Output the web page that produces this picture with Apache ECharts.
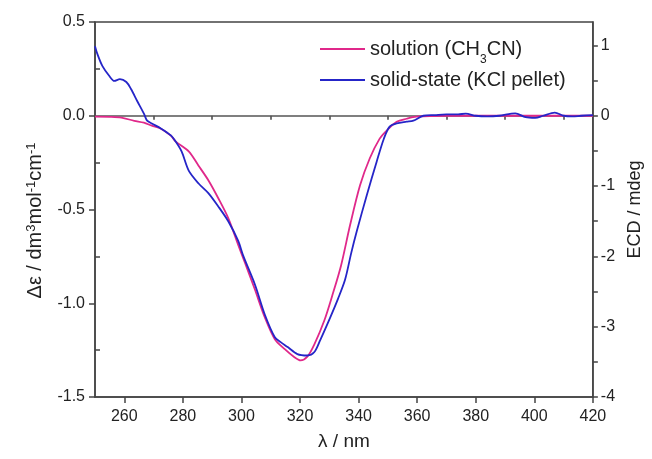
<!DOCTYPE html>
<html>
<head>
<meta charset="utf-8">
<script src="https://cdn.jsdelivr.net/npm/echarts@6/dist/echarts.min.js"></script>
<style>
html,body{margin:0;padding:0;background:#fff;}
#chart{width:652px;height:459px;}
</style>
</head>
<body>
<div id="chart"></div>
<script>
// wavelength (nm) and Δε for solution (CH3CN)
const solutionX = [250,255,259,263.4,266.7,269.4,272.5,275.9,277.6,282,285.3,288.7,292.1,295.5,298.9,301.2,304.6,308,311.4,314.8,318.1,320.2,322.5,324.9,328.3,331,334,337.1,340.5,343.8,347.2,349.6,353,356.4,359.7,370,380,390,400,410,420];
const solutionY = [-0.005,-0.006,-0.01,-0.027,-0.037,-0.053,-0.069,-0.106,-0.138,-0.19,-0.265,-0.344,-0.44,-0.546,-0.689,-0.784,-0.927,-1.076,-1.192,-1.245,-1.288,-1.305,-1.285,-1.219,-1.092,-0.96,-0.80,-0.583,-0.371,-0.228,-0.122,-0.079,-0.032,-0.016,-0.005,0,0,0,0,0,0];
// wavelength (nm) and ECD (mdeg) for solid-state (KCl pellet)
const solidX = [250,250.8,252.5,254.9,256.6,258.5,260.7,262.3,264.4,266.7,267.8,269.4,272.5,275.9,277.6,279.6,282,285.3,288.7,292.1,295.5,298.9,300.6,304.6,308,311.4,313.4,315.8,319.1,322.5,324.9,326.9,330.3,333,335.4,337.5,339.4,342.8,346.2,348.6,350.6,353,356.4,358.7,362.1,366,370,374,376.6,380,384,388,393.5,397,400.3,403,407,410,413,416,420];
const solidY = [0.99,0.88,0.71,0.565,0.495,0.52,0.48,0.38,0.21,0.03,-0.07,-0.11,-0.18,-0.28,-0.37,-0.51,-0.78,-0.96,-1.10,-1.29,-1.50,-1.78,-1.99,-2.40,-2.83,-3.15,-3.22,-3.29,-3.39,-3.41,-3.36,-3.19,-2.87,-2.60,-2.33,-1.95,-1.64,-1.13,-0.65,-0.33,-0.155,-0.11,-0.085,-0.07,0,0.01,0.02,0.02,0.03,0,-0.01,0,0.035,-0.02,-0.03,0,0.045,0,-0.01,0,0.01];

const xLabels = [260,280,300,320,340,360,380,400,420];
const xMinorTicks = [270,290,310,330,350,370,390,410];
const leftLabels = [-1.5,-1.0,-0.5,0,0.5];
const leftMinorTicks = [-1.25,-0.75,-0.25,0.25];
const rightLabels = [-4,-3,-2,-1,0,1];
const rightTicks = [-4,-3.5,-3,-2.5,-2,-1.5,-1,-0.5,0,0.5,1];

const seriesNames = ['solution (CH3CN)', 'solid-state (KCl pellet)'];

const zip = (xs, ys) => xs.map((x, i) => [x, ys[i]]);

const FONT = '"Liberation Sans", Arial, sans-serif';
const AX = '#444';
const TXT = '#222';

const chart = echarts.init(document.getElementById('chart'), null, {renderer: 'canvas'});
chart.setOption({
  animation: false,
  backgroundColor: '#fff',
  textStyle: {fontFamily: FONT, color: TXT},
  grid: {left: 95, right: 54, top: 22, bottom: 62, show: true, borderColor: AX, borderWidth: 1.5, backgroundColor: 'transparent'},
  legend: {
    orient: 'vertical', left: 315, top: 32, itemWidth: 45, itemHeight: 2, itemGap: 2,
    icon: 'rect',
    data: seriesNames,
    formatter: function (n) { return n === seriesNames[0] ? 'solution (CH{sub|3}CN)' : n; },
    textStyle: {fontFamily: FONT, fontSize: 20, color: TXT, lineHeight: 24,
      rich: {sub: {fontFamily: FONT, fontSize: 12, color: TXT, verticalAlign: 'bottom', lineHeight: 8, padding: [0,0,-5,0]}}}
  },
  xAxis: [{
    type: 'value', min: 250, max: 420, position: 'bottom',
    name: 'λ / nm', nameLocation: 'middle', nameGap: 35,
    nameTextStyle: {fontFamily: FONT, fontSize: 19, color: TXT},
    axisLine: {show: true, onZero: false, lineStyle: {color: AX, width: 1.5}},
    axisTick: {show: true, length: 6, customValues: xLabels, lineStyle: {color: AX, width: 1.5}},
    axisLabel: {customValues: xLabels, fontFamily: FONT, fontSize: 16, color: TXT, margin: 12},
    splitLine: {show: false}
  }, {
    type: 'value', min: 250, max: 420, position: 'bottom',
    axisLine: {show: false},
    axisTick: {show: true, length: 4, customValues: xMinorTicks, lineStyle: {color: AX, width: 1.5}},
    axisLabel: {show: false},
    splitLine: {show: false}
  }],
  yAxis: [{
    type: 'value', min: -1.5, max: 0.5, position: 'left',
    name: 'Δε / dm{sup|3}mol{sup|-1}cm{sup|-1}', nameLocation: 'middle', nameGap: 44, nameRotate: 90,
    nameTextStyle: {fontFamily: FONT, fontSize: 20, color: TXT, lineHeight: 22, padding: [0, 22, 0, 0],
      rich: {sup: {fontFamily: FONT, fontSize: 13, color: TXT, verticalAlign: 'top', lineHeight: 11, padding: [0,0,7,0]}}},
    axisLine: {show: true, onZero: false, lineStyle: {color: AX, width: 1.5}},
    axisTick: {show: true, length: 6, customValues: leftLabels, lineStyle: {color: AX, width: 1.5}},
    axisLabel: {customValues: leftLabels, formatter: v => v.toFixed(1), fontFamily: FONT, fontSize: 16, color: TXT, margin: 10},
    splitLine: {show: false}
  }, {
    type: 'value', min: -4, max: 4/3, position: 'right',
    name: 'ECD / mdeg', nameLocation: 'middle', nameGap: 22, nameRotate: 90,
    nameTextStyle: {fontFamily: FONT, fontSize: 18, color: TXT},
    axisLine: {show: true, onZero: false, lineStyle: {color: AX, width: 1.5}},
    axisTick: {show: true, length: 5, customValues: rightTicks, lineStyle: {color: AX, width: 1.5}},
    axisLabel: {customValues: rightLabels, fontFamily: FONT, fontSize: 16, color: TXT, margin: 8},
    splitLine: {show: false}
  }, {
    type: 'value', min: -1.5, max: 0.5, position: 'left',
    axisLine: {show: false},
    axisTick: {show: true, inside: true, length: 5, customValues: leftMinorTicks, lineStyle: {color: AX, width: 1.5}},
    axisLabel: {show: false},
    splitLine: {show: false}
  }],
  series: [{
    name: seriesNames[0], type: 'line', xAxisIndex: 0, yAxisIndex: 0,
    data: zip(solutionX, solutionY), showSymbol: false, smooth: 0.3,
    lineStyle: {color: '#e0288a', width: 1.8}, itemStyle: {color: '#e0288a'}, z: 3,
    markLine: {silent: true, symbol: 'none', label: {show: false},
      lineStyle: {color: '#555', width: 1.5, type: 'solid'}, data: [{yAxis: 0}], z: 1}
  }, {
    name: seriesNames[1], type: 'line', xAxisIndex: 0, yAxisIndex: 1,
    data: zip(solidX, solidY), showSymbol: false, smooth: 0.3,
    lineStyle: {color: '#2525c8', width: 1.8}, itemStyle: {color: '#2525c8'}, z: 4
  }]
});
</script>
</body>
</html>
